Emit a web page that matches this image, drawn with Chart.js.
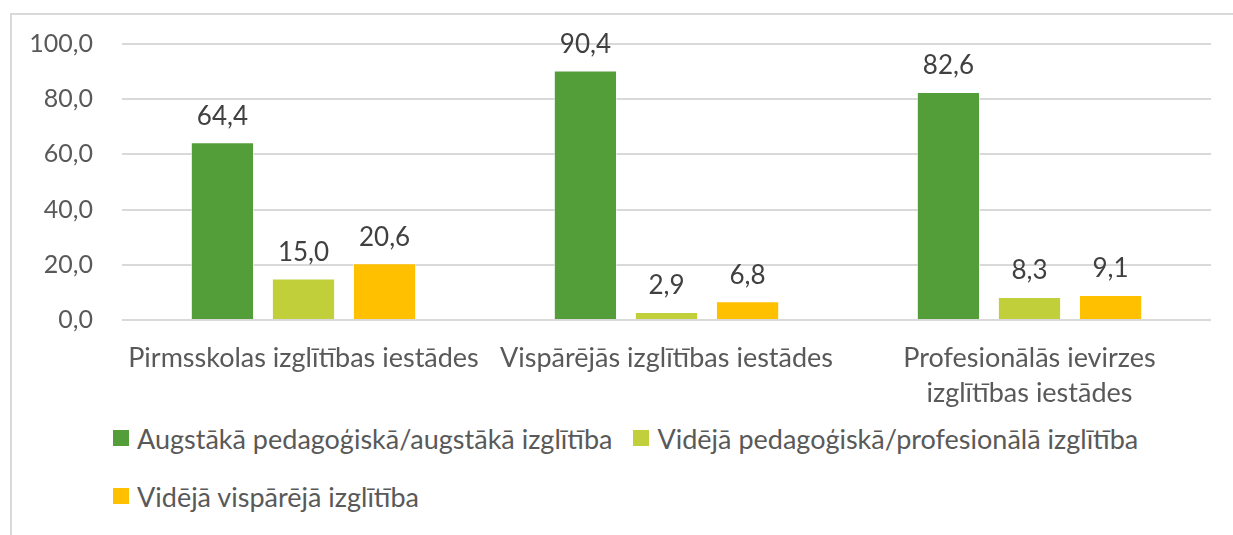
<!DOCTYPE html>
<html>
<head>
<meta charset="utf-8">
<script src="https://cdn.jsdelivr.net/npm/chart.js@4"></script>
<style>
  body { margin: 0; background: #fff; }
  #wrap { position: relative; width: 1233px; height: 535px; overflow: hidden; }
  #frame { position: absolute; left: 10px; top: 13px; width: 1400px; height: 700px;
           border-left: 2px solid #d9d9d9; border-top: 2px solid #d9d9d9; }
  #chart { position: absolute; left: 0; top: 0; }
  #legend { position: absolute; left: 113px; top: 423px; width: 1100px;
            display: flex; flex-wrap: wrap; column-gap: 21px; row-gap: 28px;
            font-family: Lato, sans-serif; font-size: 27px; color: #595959; }
  .item { display: flex; align-items: center; height: 30px; white-space: nowrap; }
  .box { width: 16px; height: 16px; margin-right: 8px; }
</style>
</head>
<body>
<div id="wrap">
  <div id="frame"></div>
  <canvas id="chart" width="1233" height="420"></canvas>
  <div id="legend"></div>
</div>
<script>
// categories and series
var categories = [
    'Pirmsskolas izglītības iestādes',
    'Vispārējās izglītības iestādes',
    ['Profesionālās ievirzes', 'izglītības iestādes']
];
var seriesNames = [
    'Augstākā pedagoģiskā/augstākā izglītība',
    'Vidējā pedagoģiskā/profesionālā izglītība',
    'Vidējā vispārējā izglītība'
];
var higherEdu = [64.4, 90.4, 82.6];
var secondaryPed = [15.0, 2.9, 8.3];
var secondaryGen = [20.6, 6.8, 9.1];
var colors = ['#549e39', '#c0cf3a', '#ffc000'];

var fontFamily = 'Lato, sans-serif';

function fmt(v) {
    return v.toFixed(1).replace('.', ',');
}

// value labels above the bars
const valueLabels = {
    id: 'valueLabels',
    afterDatasetsDraw(chart) {
        const ctx = chart.ctx;
        ctx.save();
        ctx.font = '26px ' + fontFamily;
        ctx.fillStyle = '#404040';
        ctx.textAlign = 'center';
        ctx.textBaseline = 'middle';
        chart.data.datasets.forEach(function (ds, i) {
            chart.getDatasetMeta(i).data.forEach(function (bar, j) {
                ctx.fillText(fmt(ds.data[j]), bar.x, bar.y - 26);
            });
        });
        ctx.restore();
    }
};

var allData = [higherEdu, secondaryPed, secondaryGen];
var ctx = document.getElementById('chart').getContext('2d');
var barChart = new Chart(ctx, {
    type: 'bar',
    data: {
        labels: categories,
        datasets: allData.map(function (d, i) {
            return {
                label: seriesNames[i],
                data: d,
                backgroundColor: colors[i],
                borderColor: 'rgba(255,255,255,0.6)',
                borderWidth: 1,
                categoryPercentage: 0.67,
                barPercentage: 0.78
            };
        })
    },
    options: {
        responsive: false,
        animation: false,
        devicePixelRatio: 1,
        layout: { padding: { top: 44, right: 22, left: 0, bottom: 0 } },
        plugins: {
            legend: { display: false },
            tooltip: { enabled: false }
        },
        scales: {
            x: {
                grid: { display: false, drawTicks: false },
                border: { display: false },
                ticks: {
                    color: '#595959',
                    padding: 21,
                    font: { family: fontFamily, size: 27, lineHeight: 1.3 }
                },
                afterFit: function (s) { s.height = 100; }
            },
            y: {
                min: 0,
                max: 100,
                grid: { color: '#d9d9d9', lineWidth: 2, drawTicks: false },
                border: { display: false },
                ticks: {
                    stepSize: 20,
                    color: '#595959',
                    padding: 29,
                    font: { family: fontFamily, size: 25 },
                    callback: function (v) { return fmt(v); }
                },
                afterFit: function (s) { s.width = 122; }
            }
        }
    },
    plugins: [valueLabels]
});

// legend below the chart
var legend = document.getElementById('legend');
barChart.data.datasets.forEach(function (ds) {
    var item = document.createElement('div');
    item.className = 'item';
    var box = document.createElement('span');
    box.className = 'box';
    box.style.background = ds.backgroundColor;
    var txt = document.createElement('span');
    txt.textContent = ds.label;
    item.appendChild(box);
    item.appendChild(txt);
    legend.appendChild(item);
});
</script>
</body>
</html>
